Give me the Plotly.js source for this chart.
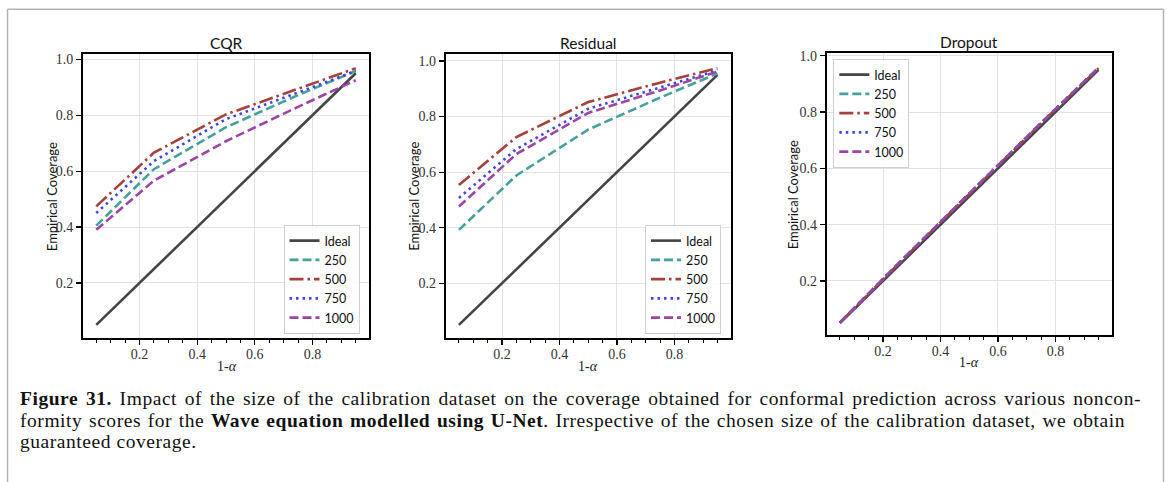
<!DOCTYPE html>
<html>
<head>
<meta charset="utf-8">
<script src="https://cdn.plot.ly/plotly-3.0.1.min.js"></script>
<style>
  html, body { margin: 0; padding: 0; background: #ffffff; }
  #page { position: relative; width: 1167px; height: 482px; overflow: hidden; }
  #fig { position: absolute; left: 0; top: 0; width: 1167px; height: 482px; }
  #caption {
    position: absolute; left: 20px; top: 388px; width: 1121px;
    font-family: "Liberation Serif", "DejaVu Serif", serif;
    font-size: 19.5px; color: #111; letter-spacing: 0.55px;
  }
  #caption .ln { height: 21.5px; line-height: 21.5px; white-space: nowrap; }
  #caption .just { text-align: justify; text-align-last: justify; white-space: normal; }
</style>
</head>
<body>
<div id="page">
  <div id="fig"></div>
  <div id="caption"></div>
</div>
<script>
// Miscoverage levels (1 - alpha) evaluated for every calibration size
const levels = [0.05, 0.25, 0.5, 0.75, 0.95];
const ideal = [0.05, 0.25, 0.5, 0.75, 0.95];

const sizeNames = ['250', '500', '750', '1000'];

// Empirical coverage, CQR score
const cqr250  = [0.405, 0.607, 0.757, 0.872, 0.958];
const cqr500  = [0.474, 0.666, 0.803, 0.895, 0.968];
const cqr750  = [0.450, 0.636, 0.786, 0.882, 0.958];
const cqr1000 = [0.390, 0.566, 0.707, 0.830, 0.925];

// Empirical coverage, residual score
const res250  = [0.392, 0.588, 0.753, 0.868, 0.955];
const res500  = [0.554, 0.726, 0.852, 0.922, 0.974];
const res750  = [0.507, 0.683, 0.828, 0.904, 0.966];
const res1000 = [0.476, 0.665, 0.813, 0.894, 0.962];

// Empirical coverage, dropout score
const drop250  = [0.053, 0.259, 0.511, 0.762, 0.958];
const drop500  = [0.052, 0.257, 0.509, 0.760, 0.956];
const drop750  = [0.052, 0.258, 0.510, 0.761, 0.957];
const drop1000 = [0.052, 0.258, 0.510, 0.760, 0.956];

const panelTitles = ['CQR', 'Residual', 'Dropout'];
const xTickVals = [0.2, 0.4, 0.6, 0.8];
const xTickText = ['0.2', '0.4', '0.6', '0.8'];
const yTickVals = [0.2, 0.4, 0.6, 0.8, 1.0];
const yTickText = ['0.2', '0.4', '0.6', '0.8', '1.0'];

const captionLines = [
  '<b>Figure 31.</b> Impact of the size of the calibration dataset on the coverage obtained for conformal prediction across various noncon-',
  'formity scores for the <b>Wave equation modelled using U-Net</b>. Irrespective of the chosen size of the calibration dataset, we obtain',
  'guaranteed coverage.'
];

// ---- page geometry helpers (pixel -> paper fraction) ----
const W = 1167, H = 482;
const px = v => v / W;
const py = v => 1 - v / H;

const SANS = 'Lato, "DejaVu Sans", sans-serif';
const SERIF = 'Liberation Serif, DejaVu Serif, serif';

const styles = [
  { color: '#46a09b', dash: '9px,4px' },
  { color: '#a5413c', dash: '14px,4px,2.5px,4px' },
  { color: '#3c46e6', dash: '2.5px,4px' },
  { color: '#9b46a5', dash: '9px,4px' }
];

const panels = [
  { series: [cqr250, cqr500, cqr750, cqr1000],
    box: [83, 369, 54, 338], yr: [0.003, 1.019],
    legend: { x: 283.5, y: 225 }, title: [226.5, 43], ylab: [51.7, 196.5], xlab: [226.5, 366] },
  { series: [res250, res500, res750, res1000],
    box: [445.7, 730.7, 54.3, 337.7], yr: [0.004, 1.024],
    legend: { x: 645, y: 225 }, title: [588.3, 43], ylab: [413.3, 196.5], xlab: [588.3, 366] },
  { series: [drop250, drop500, drop750, drop1000],
    box: [826.7, 1111.7, 52.7, 335], yr: [0.008, 1.011],
    legend: { x: 833.3, y: 59 }, title: [969.3, 41.7], ylab: [793.3, 195], xlab: [969.3, 362] }
];

// minor ticks every 0.05 between the labelled ones
const minorVals = [];
for (let k = 1; k < 20; k++) {
  const v = Math.round(k * 5) / 100;
  if (xTickVals.indexOf(v) === -1) minorVals.push(v);
}

const traces = [];
const layout = {
  width: W, height: H,
  margin: { l: 0, r: 0, t: 0, b: 0 },
  paper_bgcolor: 'rgba(0,0,0,0)',
  plot_bgcolor: '#ffffff',
  showlegend: true,
  annotations: [],
  shapes: []
};

panels.forEach((p, i) => {
  const n = i === 0 ? '' : String(i + 1);
  const xa = 'x' + n, ya = 'y' + n;
  const lg = 'legend' + n;

  traces.push({
    x: levels, y: ideal, xaxis: xa, yaxis: ya, legend: lg,
    type: 'scatter', mode: 'lines', name: 'Ideal',
    line: { color: '#444444', width: 2.6 }
  });
  p.series.forEach((s, j) => {
    traces.push({
      x: levels, y: s, xaxis: xa, yaxis: ya, legend: lg,
      type: 'scatter', mode: 'lines', name: sizeNames[j],
      line: { color: styles[j].color, width: 2.6, dash: styles[j].dash }
    });
  });

  layout['xaxis' + n] = {
    domain: [px(p.box[0]), px(p.box[1])],
    anchor: ya,
    range: [0.004, 0.996],
    tickmode: 'array', tickvals: xTickVals, ticktext: xTickText,
    ticks: 'outside', ticklen: 5, tickwidth: 1.2, tickcolor: '#000',
    ticklabelstandoff: -3,
    minor: { tickmode: 'array', tickvals: minorVals, ticks: 'outside',
             ticklen: 3, tickwidth: 1, tickcolor: '#000', showgrid: false },
    showline: true, mirror: true, linecolor: '#000', linewidth: 2,
    showgrid: true, gridcolor: '#e3e3e3', gridwidth: 1,
    zeroline: false,
    tickfont: { family: SERIF, size: 14, color: '#333' }
  };
  layout['yaxis' + n] = {
    domain: [py(p.box[3]), py(p.box[2])],
    anchor: xa,
    range: p.yr,
    tickmode: 'array', tickvals: yTickVals, ticktext: yTickText,
    ticks: 'outside', ticklen: 5, tickwidth: 1.2, tickcolor: '#000',
    showline: true, mirror: true, linecolor: '#000', linewidth: 2,
    showgrid: true, gridcolor: '#e3e3e3', gridwidth: 1,
    zeroline: false,
    tickfont: { family: SERIF, size: 14, color: '#333' }
  };

  layout[lg] = {
    x: px(p.legend.x), y: py(p.legend.y),
    xanchor: 'left', yanchor: 'top',
    xref: 'paper', yref: 'paper',
    bgcolor: 'rgba(255,255,255,0.85)',
    bordercolor: '#d0d0d0', borderwidth: 1,
    font: { family: SANS, size: 12.5, color: '#111' },
    itemwidth: 30, tracegroupgap: 0
  };

  layout.annotations.push({
    text: panelTitles[i], xref: 'paper', yref: 'paper',
    x: px(p.title[0]), y: py(p.title[1]), xanchor: 'center', yanchor: 'middle',
    showarrow: false, font: { family: SANS, size: 15.5, color: '#111' }
  });
  layout.annotations.push({
    text: 'Empirical Coverage', xref: 'paper', yref: 'paper', textangle: -90,
    x: px(p.ylab[0]), y: py(p.ylab[1]), xanchor: 'center', yanchor: 'middle',
    showarrow: false, font: { family: SANS, size: 13, color: '#111' }
  });
  layout.annotations.push({
    text: '1-<i>α</i>', xref: 'paper', yref: 'paper',
    x: px(p.xlab[0]), y: py(p.xlab[1]), xanchor: 'center', yanchor: 'middle',
    showarrow: false, font: { family: SERIF, size: 14, color: '#222' }
  });
});

// page frame
const frame = { color: '#b4b4b4', width: 1.5 };
layout.shapes.push(
  { type: 'line', xref: 'paper', yref: 'paper', x0: px(7.5), x1: px(1163.5), y0: py(9.3), y1: py(9.3), line: frame },
  { type: 'line', xref: 'paper', yref: 'paper', x0: px(7.5), x1: px(7.5), y0: py(9.3), y1: 0, line: frame },
  { type: 'line', xref: 'paper', yref: 'paper', x0: px(1163.5), x1: px(1163.5), y0: py(9.3), y1: 0, line: frame }
);

Plotly.newPlot('fig', traces, layout, { staticPlot: true, displayModeBar: false });

// figure caption: first two lines justified to the text width
const cap = document.getElementById('caption');
captionLines.forEach((t, k) => {
  const d = document.createElement('div');
  d.className = k < 2 ? 'ln just' : 'ln';
  if (k === 1) d.style.width = '1105px';
  d.innerHTML = t;
  cap.appendChild(d);
});
</script>
</body>
</html>
